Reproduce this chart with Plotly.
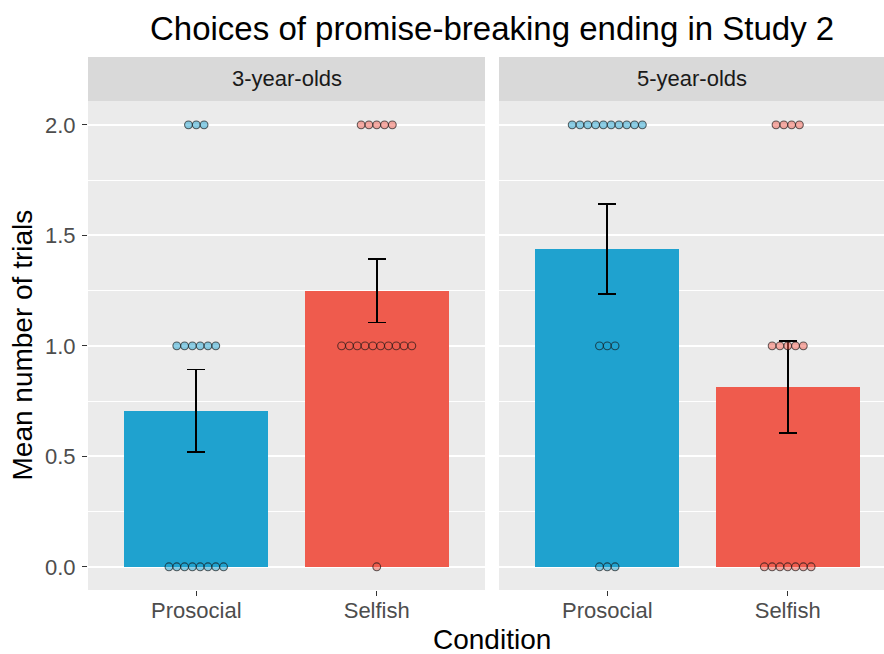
import plotly.graph_objects as go

# ---- data ----
groups = ["3-year-olds", "5-year-olds"]
conditions = ["Prosocial", "Selfish"]
means_3 = [0.706, 1.25]
se_3 = [0.187, 0.144]
means_5 = [1.4375, 0.8125]
se_5 = [0.2035, 0.2085]
scores = [0, 1, 2]
counts_3_prosocial = [8, 6, 3]
counts_3_selfish = [1, 10, 5]
counts_5_prosocial = [3, 3, 10]
counts_5_selfish = [7, 5, 4]

bar_colors = ["#1FA2CF", "#EF5B4D"]
dot_fill = ["rgba(31,162,207,0.5)", "rgba(239,91,77,0.5)"]
dot_line = "rgba(20,20,20,0.65)"
FONT = "Liberation Sans, Arial, sans-serif"

W, H = 884, 654
L, R, T, B = 88, 0, 101, 64
pw = W - L - R
ph = H - T - B
px_per_unit = 397 / 2.2
dot_d = 7.8
bin_w = dot_d / px_per_unit

fig = go.Figure()

panels = [
    (means_3, se_3, [counts_3_prosocial, counts_3_selfish], "x", "y"),
    (means_5, se_5, [counts_5_prosocial, counts_5_selfish], "x2", "y2"),
]
xpos = [1, 2]
for means, ses, counts_list, xa, ya in panels:
    fig.add_trace(go.Bar(
        x=xpos, y=means, width=0.8, marker=dict(color=bar_colors, line=dict(width=0)),
        error_y=dict(type="data", array=ses, visible=True, color="black", thickness=1.8, width=9),
        xaxis=xa, yaxis=ya, showlegend=False,
    ))
    for ci, counts in enumerate(counts_list):
        xs, ys = [], []
        for s, n in zip(scores, counts):
            for i in range(n):
                xs.append(xpos[ci] + (i - (n - 1) / 2) * bin_w)
                ys.append(s)
        fig.add_trace(go.Scatter(
            x=xs, y=ys, mode="markers",
            marker=dict(size=dot_d, color=dot_fill[ci], line=dict(color=dot_line, width=1.1)),
            xaxis=xa, yaxis=ya, showlegend=False, hoverinfo="skip",
        ))

d1 = (0, 397 / pw)
d2 = (411 / pw, 1)
yr = [-0.105, 2.108]

axis_common = dict(
    showgrid=False, zeroline=False, showline=False,
    tickvals=xpos, ticktext=conditions, ticks="outside", ticklen=5,
    tickcolor="#333333", tickwidth=1, ticklabelstandoff=-4,
    tickfont=dict(family=FONT, size=22, color="#4D4D4D"),
)
yaxis_common = dict(
    range=yr, zeroline=False, showline=False,
    tickvals=[0, 0.5, 1, 1.5, 2], gridcolor="white", gridwidth=1.6,
    minor=dict(tickvals=[0.25, 0.75, 1.25, 1.75], gridcolor="white", gridwidth=0.7, showgrid=True),
)

fig.update_layout(
    width=W, height=H,
    margin=dict(l=L, r=R, t=T, b=B),
    paper_bgcolor="white", plot_bgcolor="#EBEBEB",
    bargap=0,
    xaxis=dict(domain=list(d1), range=[0.4, 2.6], **axis_common),
    xaxis2=dict(domain=list(d2), range=[0.4, 0.4 + 385 / px_per_unit], anchor="y2", **axis_common),
    yaxis=dict(
        ticks="outside", ticklen=5, tickcolor="#333333", tickwidth=1, ticklabelstandoff=2,
        ticktext=["0.0", "0.5", "1.0", "1.5", "2.0"],
        tickfont=dict(family=FONT, size=22, color="#4D4D4D"),
        **yaxis_common),
    yaxis2=dict(anchor="x2", showticklabels=False, ticks="", **yaxis_common),
)

strip_h = 44 / ph
for dom, lab in zip([d1, d2], groups):
    fig.add_shape(type="rect", xref="paper", yref="paper", x0=dom[0], x1=dom[1],
                  y0=1, y1=1 + strip_h, fillcolor="#D9D9D9", line=dict(width=0), layer="below")
    fig.add_annotation(text=lab, xref="paper", yref="paper", x=(dom[0] + dom[1]) / 2,
                       y=1 + strip_h / 2, showarrow=False, xanchor="center", yanchor="middle",
                       font=dict(family=FONT, size=22, color="#1A1A1A"))

fig.add_annotation(text="Choices of promise-breaking ending in Study 2", xref="paper", yref="paper",
                   x=(492 - L) / pw, y=1 + (T - 28) / ph, showarrow=False,
                   xanchor="center", yanchor="middle",
                   font=dict(family=FONT, size=33, color="black"))
fig.add_annotation(text="Condition", xref="paper", yref="paper",
                   x=(492 - L) / pw, y=-(639 - (H - B)) / ph, showarrow=False,
                   xanchor="center", yanchor="middle",
                   font=dict(family=FONT, size=28, color="black"))
fig.add_annotation(text="Mean number of trials", xref="paper", yref="paper",
                   x=(22 - L) / pw, y=0.5, showarrow=False, textangle=-90,
                   xanchor="center", yanchor="middle",
                   font=dict(family=FONT, size=28, color="black"))

fig.write_html("out.html", config={"displayModeBar": False},
               post_script="document.body.style.margin='0';document.body.style.overflow='hidden';")
